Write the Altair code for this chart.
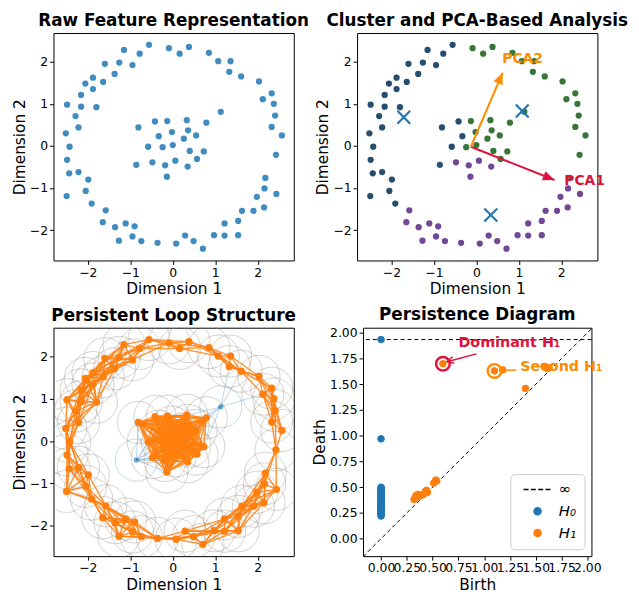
import math
import altair as alt
import pandas as pd

# ---------------- data ----------------
ring_x = [-0.56,-0.09,0.16,0.38,0.85,1.07,1.36,1.33,1.61,2.03,2.33,2.12,2.38,2.41,2.33,2.57,2.43,2.18,2.16,2.44,1.98,2.15,1.90,1.63,1.54,1.22,1.54,1.22,0.97,0.71,0.49,0.29,0.08,-0.36,-0.74,-0.95,-0.90,-1.11,-1.27,-1.36,-1.65,-1.58,-1.91,-2.05,-1.99,-2.22,-2.50,-2.44,-2.49,-2.43,-2.52,-2.22,-2.29,-2.49,-2.16,-1.80,-2.16,-1.88,-2.06,-1.88,-1.64,-1.60,-1.37,-1.26,-0.95,-1.15,-0.78]
ring_y = [2.40,2.32,2.19,2.35,2.21,2.01,2.01,1.76,1.65,1.53,1.25,1.11,1.00,0.72,0.45,0.25,-0.21,-0.76,-1.01,-1.14,-1.21,-1.46,-1.54,-1.54,-1.78,-1.84,-2.12,-2.13,-2.12,-2.44,-2.26,-2.13,-2.32,-2.30,-2.26,-2.15,-1.91,-1.84,-2.25,-1.93,-1.81,-1.53,-1.37,-1.07,-0.80,-0.62,-1.19,-0.65,-0.33,-0.02,0.30,0.44,0.71,0.98,0.93,0.92,1.21,1.35,1.48,1.62,1.52,1.95,1.71,1.98,1.92,2.28,2.19]
ring_cluster = list("N" + "G" * 17 + "P" * 24 + "N" * 25)

core_x = [-0.81,-0.42,-0.13,0.33,0.79,-0.33,-0.02,0.36,0.55,0.26,-0.58,-0.24,0.00,0.40,0.73,0.57,0.06,-0.18,-0.48,0.35,-0.14]
core_y = [0.44,0.58,0.59,0.61,0.55,0.23,0.33,0.37,0.25,0.17,-0.02,-0.03,0.02,-0.12,-0.13,-0.31,-0.35,-0.46,-0.39,-0.49,-0.73]
core_cluster = list("NNGGGNGGGGNGGGGGPPPPP")

noise_x = [1.13, -0.86]
noise_y = [0.81, -0.45]
noise_cluster = ["G", "N"]

centroid_x = [-1.71, 1.08, 0.34]
centroid_y = [0.68, 0.83, -1.64]

pca_names = ["PCA1", "PCA2"]
pca_origin_x = -0.13
pca_origin_y = -0.02
pca_end_x = [1.84, 0.62]
pca_end_y = [-0.81, 1.74]
pca_label_x = [2.07, 0.61]
pca_label_y = [-0.825, 2.07]

h0_death = [1.935, 0.97, 0.50, 0.49, 0.48, 0.47, 0.46, 0.45, 0.44, 0.43, 0.42, 0.41, 0.40,
            0.39, 0.38, 0.37, 0.36, 0.35, 0.34, 0.33, 0.32, 0.31, 0.30, 0.29, 0.28, 0.27,
            0.26, 0.25, 0.24, 0.23, 0.22, 0.35, 0.30, 0.28, 0.26, 0.25, 0.33, 0.31, 0.29, 0.27]
h1_birth = [0.60, 1.10, 1.18, 1.40, 1.58, 1.61, 1.63, 0.32, 0.33, 0.34, 0.36, 0.37, 0.39, 0.41, 0.43, 0.45, 0.44, 0.51, 0.53, 0.54]
h1_death = [1.70, 1.63, 1.64, 1.46, 1.675, 1.655, 1.66, 0.38, 0.40, 0.42, 0.43, 0.41, 0.42, 0.43, 0.46, 0.45, 0.47, 0.54, 0.57, 0.56]
inf_death = 1.935

dominant = (0.60, 1.70)
second = (1.10, 1.63)
dom_text = (0.75, 1.90)
dom_arrow_from = (0.925, 1.796)
dom_arrow_to = (0.64, 1.72)
sec_text = (1.35, 1.665)
sec_line_from = (1.31, 1.637)
sec_line_to = (1.21, 1.637)

# ---------------- layout constants ----------------
FONT = "DejaVu Sans"
XD = [-2.81, 2.85]
YD = [-2.72, 2.68]
PX = [-0.175, 2.04]
PY = [-0.17, 2.05]
W, H = 243, 230
BLW, BLH = 243, 231
BRW, BRH = 231, 231

pts = pd.DataFrame({
    "x": ring_x + core_x + noise_x,
    "y": ring_y + core_y + noise_y,
    "cluster": ring_cluster + core_cluster + noise_cluster,
})


def X(field="x", domain=XD, title="Dimension 1", values=(-2, -1, 0, 1, 2), fmt="d"):
    return alt.X(f"{field}:Q", scale=alt.Scale(domain=domain, nice=False, zero=False),
                 axis=alt.Axis(values=list(values), title=title, format=fmt))


def Y(field="y", domain=YD, title="Dimension 2", values=(-2, -1, 0, 1, 2), fmt="d"):
    return alt.Y(f"{field}:Q", scale=alt.Scale(domain=domain, nice=False, zero=False),
                 axis=alt.Axis(values=list(values), title=title, format=fmt))


def ang(dx, dy, sx, sy):
    return math.degrees(math.atan2(dx * sx, dy * sy)) % 360


XPATH = "M-1,-1L1,1M-1,1L1,-1"
HEAD = "M0,0L-0.75,1.8L0.75,1.8Z"
OPEN_HEAD = "M-0.8,1.6L0,0L0.8,1.6"
DASH = "M-4,0L-2.6,0M-1.9,0L-0.5,0M0.2,0L1.6,0M2.3,0L3.7,0"

# ---------------- panel 1 ----------------
tl = alt.Chart(pts).mark_point(filled=True, size=40, opacity=0.85, color="#1f77b4").encode(
    x=X(), y=Y()
).properties(width=W, height=H, title="Raw Feature Representation")

# ---------------- panel 2 ----------------
sx = W / (XD[1] - XD[0])
sy = H / (YD[1] - YD[0])
tr_layers = [
    alt.Chart(pts).mark_point(filled=True, size=40, opacity=0.95).encode(
        x=X(), y=Y(),
        color=alt.Color("cluster:N", scale=alt.Scale(domain=["N", "G", "P"],
                        range=["#1b4566", "#2e6e2e", "#6a3d8f"]), legend=None)),
    alt.Chart(pd.DataFrame({"x": centroid_x, "y": centroid_y})).mark_point(
        shape=XPATH, filled=False, size=170, strokeWidth=2.2, color="#1f77b4", opacity=1
    ).encode(x=X(), y=Y()),
]
pca_colors = {"PCA1": "crimson", "PCA2": "darkorange"}
for i, nm in enumerate(pca_names):
    c = pca_colors[nm]
    seg = pd.DataFrame({"x": [pca_origin_x], "y": [pca_origin_y], "x2": [pca_end_x[i]], "y2": [pca_end_y[i]]})
    tr_layers.append(alt.Chart(seg).mark_rule(strokeWidth=2, color=c).encode(
        x=X(), y=Y(), x2="x2:Q", y2="y2:Q"))
    a = ang(pca_end_x[i] - pca_origin_x, pca_end_y[i] - pca_origin_y, sx, sy)
    tr_layers.append(alt.Chart(pd.DataFrame({"x": [pca_end_x[i]], "y": [pca_end_y[i]]})).mark_point(
        shape=HEAD, filled=True, size=170, angle=a, color=c, opacity=1, strokeWidth=0).encode(x=X(), y=Y()))
    tr_layers.append(alt.Chart(pd.DataFrame({"x": [pca_label_x[i]], "y": [pca_label_y[i]], "t": [nm]})).mark_text(
        align="left", baseline="middle", fontWeight="bold", fontSize=14, color=c, font=FONT).encode(
        x=X(), y=Y(), text="t:N"))
tr = alt.layer(*tr_layers).properties(width=W, height=H, title="Cluster and PCA-Based Analysis")

# ---------------- panel 3 ----------------
orange_x = ring_x + core_x
orange_y = ring_y + core_y
bsx = BLW / (XD[1] - XD[0])
radius = 0.56
circ_size = math.pi * (radius * bsx) ** 2

edge_rows = []
for i in range(len(ring_x)):
    for j in range(i + 1, len(ring_x)):
        if math.hypot(ring_x[i] - ring_x[j], ring_y[i] - ring_y[j]) < 1.0:
            edge_rows.append((ring_x[i], ring_y[i], ring_x[j], ring_y[j]))
for i in range(len(core_x)):
    for j in range(i + 1, len(core_x)):
        edge_rows.append((core_x[i], core_y[i], core_x[j], core_y[j]))
edges = pd.DataFrame(edge_rows, columns=["x", "y", "x2", "y2"])

blue_rows = []
for k in range(len(noise_x)):
    for i in range(len(orange_x)):
        if math.hypot(noise_x[k] - orange_x[i], noise_y[k] - orange_y[i]) < 1.05:
            blue_rows.append((noise_x[k], noise_y[k], orange_x[i], orange_y[i]))
bedges = pd.DataFrame(blue_rows, columns=["x", "y", "x2", "y2"])

odf = pd.DataFrame({"x": orange_x, "y": orange_y})
ndf = pd.DataFrame({"x": noise_x, "y": noise_y})

bl = alt.layer(
    alt.Chart(odf).mark_point(shape="circle", filled=False, size=circ_size, color="#8c7f72",
                              strokeWidth=1, opacity=0.35, clip=True).encode(x=X(), y=Y()),
    alt.Chart(ndf).mark_point(shape="circle", filled=False, size=circ_size, color="#1f77b4",
                              strokeWidth=1, opacity=0.25, clip=True).encode(x=X(), y=Y()),
    alt.Chart(bedges).mark_rule(color="#1f77b4", strokeWidth=1, opacity=0.3, clip=True).encode(
        x=X(), y=Y(), x2="x2:Q", y2="y2:Q"),
    alt.Chart(edges).mark_rule(color="#ff7f0e", strokeWidth=1.4, opacity=0.85, clip=True).encode(
        x=X(), y=Y(), x2="x2:Q", y2="y2:Q"),
    alt.Chart(odf).mark_point(filled=True, size=55, color="#ff7f0e", opacity=1).encode(x=X(), y=Y()),
    alt.Chart(ndf).mark_point(filled=True, size=30, color="#1f77b4", opacity=0.6).encode(x=X(), y=Y()),
).properties(width=BLW, height=BLH, title="Persistent Loop Structure")

# ---------------- panel 4 ----------------
pticks = [0, 0.25, 0.5, 0.75, 1.0, 1.25, 1.5, 1.75, 2.0]


def PXe(field="x"):
    return X(field, PX, "Birth", pticks, ".2f")


def PYe(field="y"):
    return Y(field, PY, "Death", pticks, ".2f")


psx = BRW / (PX[1] - PX[0])
psy = BRH / (PY[1] - PY[0])
lo = min(PX[0], PY[0])
hi = max(PX[1], PY[1])

pd_pts = pd.DataFrame({
    "x": [0.0] * len(h0_death) + h1_birth,
    "y": h0_death + h1_death,
    "series": ["H₀"] * len(h0_death) + ["H₁"] * len(h1_birth),
})
leg = dict(title=None, orient="bottom-right")
sdom = ["∞", "H₀", "H₁"]
crange = ["black", "#1f77b4", "#ff7f0e"]

dom_a = ang(dom_arrow_to[0] - dom_arrow_from[0], dom_arrow_to[1] - dom_arrow_from[1], psx, psy)

br = alt.layer(
    alt.Chart(pd.DataFrame({"x": [lo], "y": [lo], "x2": [hi], "y2": [hi]})).mark_rule(
        color="black", strokeWidth=1, strokeDash=[4, 3], clip=True).encode(
        x=PXe(), y=PYe(), x2="x2:Q", y2="y2:Q"),
    alt.Chart(pd.DataFrame({"y": [inf_death]})).mark_rule(
        color="black", strokeWidth=1, strokeDash=[4, 3]).encode(y=PYe()),
    alt.Chart(pd_pts).mark_point(filled=True, size=45, opacity=1, strokeWidth=1).encode(
        x=PXe(), y=PYe(),
        color=alt.Color("series:N", scale=alt.Scale(domain=sdom, range=crange), legend=alt.Legend(**leg)),
        stroke=alt.Stroke("series:N", scale=alt.Scale(domain=sdom, range=crange), legend=alt.Legend(**leg)),
        shape=alt.Shape("series:N", scale=alt.Scale(domain=sdom, range=[DASH, "circle", "circle"]),
                        legend=alt.Legend(**leg)),
    ),
    alt.Chart(pd.DataFrame({"x": [dominant[0]], "y": [dominant[1]]})).mark_point(
        filled=False, size=190, strokeWidth=2.5, color="crimson", opacity=1).encode(x=PXe(), y=PYe()),
    alt.Chart(pd.DataFrame({"x": [second[0]], "y": [second[1]]})).mark_point(
        filled=False, size=190, strokeWidth=2.5, color="darkorange", opacity=1).encode(x=PXe(), y=PYe()),
    alt.Chart(pd.DataFrame({"x": [dom_arrow_from[0]], "y": [dom_arrow_from[1]],
                            "x2": [dom_arrow_to[0]], "y2": [dom_arrow_to[1]]})).mark_rule(
        color="crimson", strokeWidth=1.5).encode(x=PXe(), y=PYe(), x2="x2:Q", y2="y2:Q"),
    alt.Chart(pd.DataFrame({"x": [dom_arrow_to[0]], "y": [dom_arrow_to[1]]})).mark_point(
        shape=OPEN_HEAD, filled=False, size=70, angle=dom_a, color="crimson", strokeWidth=1.5,
        opacity=1).encode(x=PXe(), y=PYe()),
    alt.Chart(pd.DataFrame({"x": [sec_line_from[0]], "y": [sec_line_from[1]],
                            "x2": [sec_line_to[0]], "y2": [sec_line_to[1]]})).mark_rule(
        color="darkorange", strokeWidth=1.5).encode(x=PXe(), y=PYe(), x2="x2:Q", y2="y2:Q"),
    alt.Chart(pd.DataFrame({"x": [dom_text[0]], "y": [dom_text[1]], "t": ["Dominant H₁"]})).mark_text(
        align="left", baseline="middle", fontWeight="bold", fontSize=14.5, color="crimson", font=FONT).encode(
        x=PXe(), y=PYe(), text="t:N"),
    alt.Chart(pd.DataFrame({"x": [sec_text[0]], "y": [sec_text[1]], "t": ["Second H₁"]})).mark_text(
        align="left", baseline="middle", fontWeight="bold", fontSize=14.5, color="darkorange", font=FONT).encode(
        x=PXe(), y=PYe(), text="t:N"),
).properties(width=BRW, height=BRH, title="Persistence Diagram")

ind = dict(x="independent", y="independent", color="independent", shape="independent", stroke="independent")
row1 = alt.hconcat(tl, tr, spacing=64, bounds="flush").resolve_scale(**ind)
row2 = alt.hconcat(bl, br, spacing=70, bounds="flush").resolve_scale(**ind)

chart = alt.vconcat(row1, row2, spacing=7).resolve_scale(**ind).configure(
    font=FONT, padding={"left": 4, "top": 0, "right": 2, "bottom": 0}
).configure_view(
    stroke="black", strokeWidth=1
).configure_axis(
    grid=False, domain=False, ticks=True, tickColor="black", tickSize=4, tickWidth=1,
    labelFontSize=12.5, labelColor="black", labelFont=FONT, labelFlush=False, labelOverlap=False,
    labelPadding=2, titleFontSize=15.5, titleFontWeight="normal", titleColor="black", titleFont=FONT,
    titlePadding=3
).configure_axisY(titlePadding=2).configure_title(
    fontSize=17, fontWeight="bold", font=FONT, color="black", offset=3, anchor="middle"
).configure_legend(
    fillColor="white", strokeColor="#cccccc", cornerRadius=4, padding=8, offset=7,
    labelFontSize=15, labelFont=FONT, labelFontStyle="italic", symbolSize=50, rowPadding=6,
    labelOffset=14, symbolOffset=12, symbolStrokeWidth=1.5
)

chart.save("out.html", embed_options={"renderer": "svg", "actions": False})
